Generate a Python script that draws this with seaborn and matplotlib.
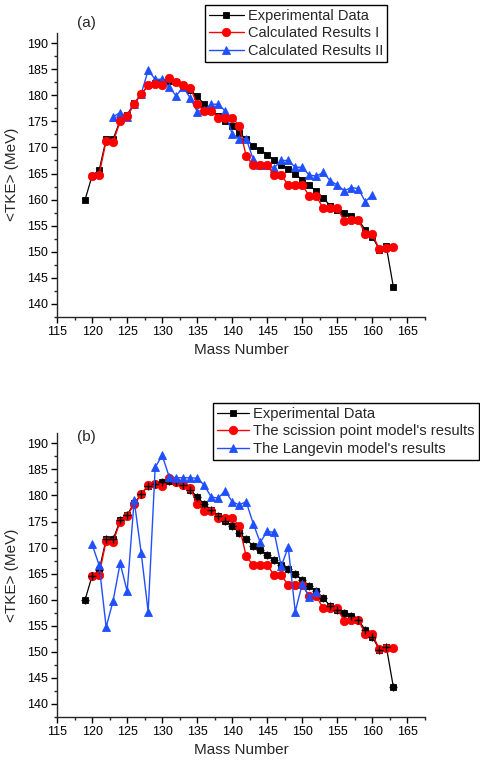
import numpy as np
import matplotlib
matplotlib.use("Agg")
import matplotlib.pyplot as plt
from matplotlib.ticker import MultipleLocator
import seaborn as sns

# ---- data -------------------------------------------------------------
mass_exp = list(range(119, 164))
tke_exp = [160.0, 164.6, 165.6, 171.6, 171.6, 175.2, 176.3, 178.5, 180.2, 181.9,
           182.3, 182.6, 182.8, 182.6, 182.0, 181.0, 179.8, 178.3, 177.3, 176.0,
           175.1, 174.2, 172.8, 171.6, 170.3, 169.6, 168.6, 167.6, 166.6, 165.9,
           164.9, 163.8, 162.7, 161.6, 160.3, 158.8, 158.0, 157.5, 156.9, 156.1,
           154.2, 152.9, 150.4, 151.0, 143.3]

mass_calc1 = list(range(120, 164))
tke_calc1 = [164.5, 164.8, 171.3, 171.1, 175.0, 176.1, 178.3, 180.2, 182.0, 182.2,
             181.9, 183.3, 182.6, 182.0, 181.5, 178.3, 177.0, 177.0, 175.7, 175.7,
             175.7, 174.2, 168.3, 166.6, 166.6, 166.6, 164.7, 164.7, 162.8, 162.8,
             162.8, 160.7, 160.7, 158.3, 158.3, 158.3, 155.9, 156.1, 156.1, 153.4,
             153.4, 150.5, 150.7, 150.8]

mass_calc2 = list(range(123, 161))
tke_calc2 = [175.9, 176.7, 175.9, 178.4, 180.3, 184.8, 183.1, 183.1, 181.6, 179.9,
             181.6, 179.5, 176.9, 177.2, 178.3, 178.3, 177.0, 172.5, 171.7, 171.7,
             167.7, 166.7, 166.6, 166.1, 167.5, 167.5, 166.2, 166.2, 164.7, 164.5,
             165.2, 163.6, 162.8, 161.7, 162.3, 162.1, 159.6, 160.9]

mass_lang = list(range(120, 153))
tke_lang = [170.6, 166.6, 154.7, 159.8, 167.0, 161.6, 179.1, 169.0, 157.7, 185.4,
            187.7, 183.6, 183.4, 183.4, 183.4, 183.3, 182.0, 179.7, 179.5, 180.9,
            178.8, 178.2, 178.8, 174.6, 171.0, 173.1, 172.9, 166.4, 170.1, 157.7,
            163.0, 160.5, 161.5]

labels_a = ["Experimental Data", "Calculated Results I", "Calculated Results II"]
labels_b = ["Experimental Data", "The scission point model's results",
            "The Langevin model's results"]

# ---- style ------------------------------------------------------------
sns.set_theme(style="ticks")
plt.rcParams["font.family"] = ["Liberation Sans", "DejaVu Sans"]
plt.rcParams["axes.linewidth"] = 1.0

BLACK = "#000000"
RED = "#ff0000"
BLUE = "#1f4fff"

W, H = 480, 765
fig = plt.figure(figsize=(W / 100, H / 100), dpi=100)
ax_a = fig.add_axes([0.119, 0.586, 0.766, 0.371])
ax_b = fig.add_axes([0.119, 0.063, 0.766, 0.371])


def series(ax, x, y, color, marker, ms, label, z, lw=1.0):
    sns.lineplot(x=x, y=y, ax=ax, color=color, marker=marker, markersize=ms,
                 markeredgecolor=color, markerfacecolor=color, markeredgewidth=0.6,
                 linewidth=lw, label=label, zorder=z, sort=False)


# panel (a)
series(ax_a, mass_exp, tke_exp, BLACK, "s", 5.0, labels_a[0], 2, lw=0.9)
series(ax_a, mass_calc2, tke_calc2, BLUE, "^", 6.0, labels_a[2], 3)
series(ax_a, mass_calc1, tke_calc1, RED, "o", 6.0, labels_a[1], 4)

# panel (b)
series(ax_b, mass_exp, tke_exp, BLACK, "s", 5.0, labels_b[0], 2, lw=0.9)
series(ax_b, mass_calc1, tke_calc1, RED, "o", 6.0, labels_b[1], 3)
ax_b.plot(mass_exp, tke_exp, linestyle="none", marker="+", color=BLACK,
          markersize=6, markeredgewidth=1.0, zorder=4)
series(ax_b, mass_lang, tke_lang, BLUE, "^", 6.0, labels_b[2], 5)

# panel tag position (px), legend box upper-left corner (px), legend font size,
# legend handle length
panels = (
    (ax_a, labels_a, "(a)", (77, 23), (205, 5), 10.5, 2.4),
    (ax_b, labels_b, "(b)", (77, 437), (213, 403), 10.6, 2.2),
)

for ax, labels, tag, tag_px, leg_px, leg_fs, hlen in panels:
    ax.set_xlim(115, 167.5)
    ax.set_ylim(137.5, 192)
    ax.xaxis.set_major_locator(MultipleLocator(5))
    ax.xaxis.set_minor_locator(MultipleLocator(2.5))
    ax.yaxis.set_major_locator(MultipleLocator(5))
    ax.yaxis.set_minor_locator(MultipleLocator(2.5))
    ax.tick_params(which="major", direction="out", length=4.5, width=1.0,
                   labelsize=9, colors=BLACK, pad=2)
    ax.tick_params(which="minor", direction="out", length=2.5, width=1.0)
    sns.despine(ax=ax)
    ax.set_xlabel("Mass Number", fontsize=11, labelpad=4)
    ax.set_ylabel("<TKE> (MeV)", fontsize=11, labelpad=6)
    fig.text(tag_px[0] / W, 1 - tag_px[1] / H, tag, fontsize=11,
             va="center", ha="left")
    handles, lbls = ax.get_legend_handles_labels()
    order = [lbls.index(l) for l in labels]
    leg = ax.legend([handles[i] for i in order], [lbls[i] for i in order],
                    loc="upper left",
                    bbox_to_anchor=(leg_px[0] / W, 1 - leg_px[1] / H),
                    bbox_transform=fig.transFigure,
                    frameon=True, fancybox=False, framealpha=1,
                    edgecolor=BLACK, fontsize=leg_fs, handlelength=hlen,
                    handletextpad=0.3, borderpad=0.25, labelspacing=0.25,
                    borderaxespad=0)
    leg.get_frame().set_linewidth(1.0)
    leg.set_zorder(10)

fig.savefig("out.png", dpi=100)
